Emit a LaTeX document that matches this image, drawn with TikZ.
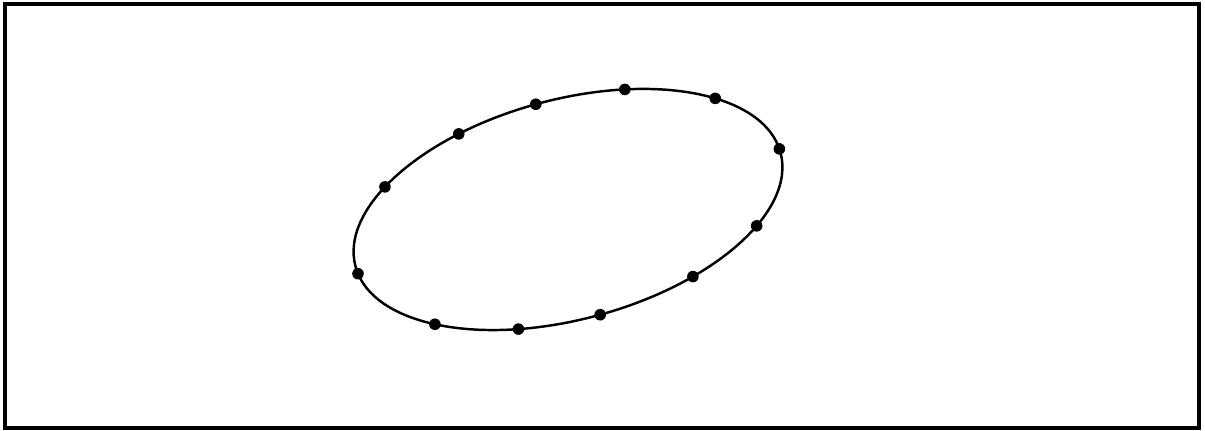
\documentclass[tikz,border=0pt]{standalone}
\usepackage{tikz}

\begin{document}
\begin{tikzpicture}[
    x=0.02cm,
    y=0.02cm,
    frame/.style={
        draw,
        line width=1.8pt
    },
    orbit/.style={
        draw,
        line width=1.4pt
    },
    dot/.style={
        circle,
        fill=black,
        inner sep=0pt,
        minimum size=6.6pt
    }
]
    \useasboundingbox (0,0) rectangle (1205,431);
    \draw[frame] (5,3) rectangle (1199,427);

    \begin{scope}[shift={(568,221.5)}, rotate=15]
        \coordinate (centre) at (0,0);
        \draw[orbit] (centre) ellipse [x radius=220, y radius=110];
        \foreach \t [count=\i] in {67,39,2,-36,-62,-89,-111,-136,184,141,113,91}
            \node[dot] (p\i) at (\t:220 and 110) {};
    \end{scope}
\end{tikzpicture}
\end{document}
